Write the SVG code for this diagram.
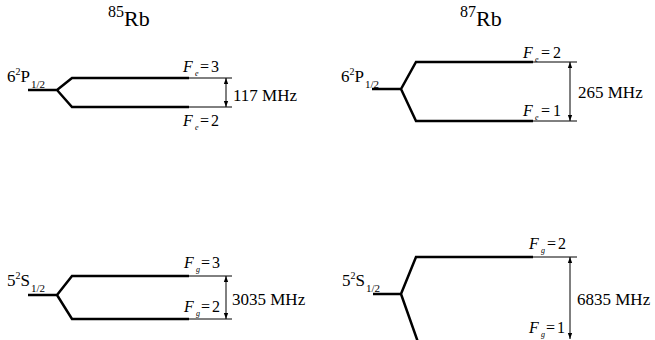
<svg xmlns="http://www.w3.org/2000/svg" width="655" height="340" viewBox="0 0 655 340" font-family="'Liberation Serif', 'Times New Roman', serif">
<defs>
<marker id="ah" markerUnits="userSpaceOnUse" markerWidth="6" markerHeight="8" refX="7" refY="3" orient="auto-start-reverse" viewBox="0 0 7 6">
<path d="M0,0.5 L7,3 L0,5.5 z" fill="#000"/>
</marker>
</defs>
<style>
text, tspan { font-family: "Liberation Serif", "Times New Roman", serif; }
text { fill: #000; }
.lvl { fill: none; stroke: #000; stroke-width: 2.5; stroke-linejoin: miter; }
.thin { fill: none; stroke: #000; stroke-width: 1; }
.arr { fill: none; stroke: #000; stroke-width: 1; marker-start: url(#ah); marker-end: url(#ah); }
.title { font-size: 22px; }
.iso { font-size: 16px; }
.state { font-size: 17px; }
.sup2 { font-size: 10px; }
.frac { font-size: 11px; }
.F { font-size: 16px; }
.it { font-style: italic; }
.sub { font-size: 8px; font-style: italic; }
.mhz { font-size: 17px; }
</style>
<rect width="655" height="340" fill="#fff"/>

<g id="title85">
<text><tspan class="iso" x="108" y="17">85</tspan><tspan class="title" y="26">Rb</tspan></text>
</g>
<g id="title87">
<text><tspan class="iso" x="460" y="17">87</tspan><tspan class="title" y="26">Rb</tspan></text>
</g>

<g id="rb85-P">
<text class="state" x="7" y="82">6<tspan class="sup2" y="75">2</tspan><tspan y="82">P</tspan><tspan class="frac" y="88" dx="1">1/2</tspan></text>
<path class="lvl" d="M28,90 H57 L72,78 H189 M57,90 L72,107 H189"/>
<path class="thin" d="M189,78 H232 M189,107 H232"/>
<text class="F" y="72"><tspan class="it" x="183">F</tspan><tspan class="sub" x="195" y="76">e</tspan><tspan x="200" y="72">=</tspan><tspan x="211">3</tspan></text>
<text class="F" y="126"><tspan class="it" x="183">F</tspan><tspan class="sub" x="195" y="130">e</tspan><tspan x="200" y="126">=</tspan><tspan x="211">2</tspan></text>
<text class="mhz" x="233" y="101">117 MHz</text>
</g>

<g id="rb87-P">
<text class="state" x="341" y="82">6<tspan class="sup2" y="75">2</tspan><tspan y="82">P</tspan><tspan class="frac" y="88" dx="1">1/2</tspan></text>
<path class="lvl" d="M372,89 H401 L416,62 H533 M401,89 L416,121 H533"/>
<path class="thin" d="M533,62 H577 M533,121 H577"/>
<text class="F" y="58"><tspan class="it" x="523">F</tspan><tspan class="sub" x="535" y="62">e</tspan><tspan x="541" y="58">=</tspan><tspan x="553">2</tspan></text>
<text class="F" y="116"><tspan class="it" x="523">F</tspan><tspan class="sub" x="535" y="120">e</tspan><tspan x="541" y="116">=</tspan><tspan x="553">1</tspan></text>
<text class="mhz" x="578" y="98">265 MHz</text>
</g>

<g id="rb85-S">
<text class="state" x="7" y="286">5<tspan class="sup2" y="279">2</tspan><tspan y="286">S</tspan><tspan class="frac" y="292" dx="1">1/2</tspan></text>
<path class="lvl" d="M28,295 H57 L72,276 H189 M57,295 L72,319 H189"/>
<path class="thin" d="M189,276 H232 M189,319 H232"/>
<text class="F" y="268"><tspan class="it" x="184">F</tspan><tspan class="sub" x="196" y="272">g</tspan><tspan x="201" y="268">=</tspan><tspan x="212">3</tspan></text>
<text class="F" y="312"><tspan class="it" x="184">F</tspan><tspan class="sub" x="196" y="316">g</tspan><tspan x="201" y="312">=</tspan><tspan x="212">2</tspan></text>
<text class="mhz" x="232" y="305">3035 MHz</text>
</g>

<g id="rb87-S">
<text class="state" x="342" y="286">5<tspan class="sup2" y="279">2</tspan><tspan y="286">S</tspan><tspan class="frac" y="292" dx="1">1/2</tspan></text>
<path class="lvl" d="M373,294 H401 L416,257 H533 M401,294 L419,345"/>
<path class="thin" d="M533,257 H577"/>
<text class="F" y="249"><tspan class="it" x="529">F</tspan><tspan class="sub" x="541" y="253">g</tspan><tspan x="547" y="249">=</tspan><tspan x="558">2</tspan></text>
<text class="F" y="333"><tspan class="it" x="529">F</tspan><tspan class="sub" x="541" y="337">g</tspan><tspan x="546" y="333">=</tspan><tspan x="557">1</tspan></text>
<text class="mhz" x="577" y="305">6835 MHz</text>
</g>

<g id="connectors">
<line class="arr" x1="226" y1="78" x2="226" y2="107"/>
<line class="arr" x1="570" y1="62" x2="570" y2="121"/>
<line class="arr" x1="226" y1="276" x2="226" y2="319"/>
<line class="arr" x1="570" y1="257" x2="570" y2="339"/>
</g>
</svg>
